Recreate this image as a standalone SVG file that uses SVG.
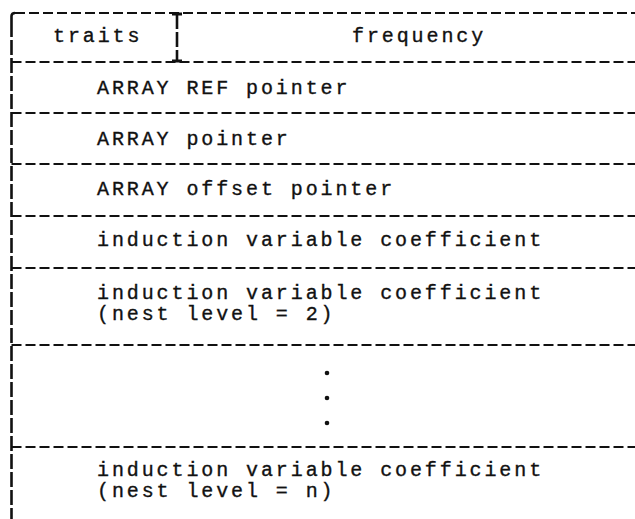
<svg xmlns="http://www.w3.org/2000/svg" width="635" height="519" viewBox="0 0 635 519">
<style>
.h{stroke:#111;stroke-width:2.2;stroke-dasharray:10 4;fill:none}
.v{stroke:#111;stroke-width:2.6;stroke-dasharray:15 3;fill:none}
.t{font-family:"Liberation Mono",monospace;font-size:20px;letter-spacing:2.9px;fill:#111;stroke:#111;stroke-width:0.35}
</style>
<rect width="635" height="519" fill="#fff"/>
<g id="connectors">
<path class="h" d="M15 13 H635"/>
<path d="M11.5 22 V16 Q11.5 13 15 13" stroke="#111" stroke-width="2.6" fill="none"/>
<path class="v" d="M11.5 22 V519"/>
<path class="h" d="M11.5 62 H635"/>
<path class="h" d="M11.5 113 H635"/>
<path class="h" d="M11.5 164 H635"/>
<path class="h" d="M11.5 216 H635"/>
<path class="h" d="M11.5 268 H635"/>
<path class="h" d="M11.5 345 H635"/>
<path class="h" d="M11.5 447 H635"/>
<path class="v" d="M177 14 V61" stroke-dasharray="12 4"/>
<path d="M172 14 H182 M172 61 H182" stroke="#111" stroke-width="3"/>
</g>
<g id="traits"><text class="t" x="53" y="42">traits</text></g>
<g id="frequency"><text class="t" x="352" y="42">frequency</text></g>
<g id="array-ref"><text class="t" x="97" y="94">ARRAY REF pointer</text></g>
<g id="array-ptr"><text class="t" x="97" y="145">ARRAY pointer</text></g>
<g id="array-off"><text class="t" x="97" y="195">ARRAY offset pointer</text></g>
<g id="ind1"><text class="t" x="97" y="246">induction variable coefficient</text></g>
<g id="ind2"><text class="t" x="97" y="299">induction variable coefficient</text><text class="t" x="97" y="320">(nest level = 2)</text></g>
<g id="dots"><circle cx="327" cy="373" r="2.3" fill="#111"/><circle cx="327" cy="398" r="2.3" fill="#111"/><circle cx="327" cy="423" r="2.3" fill="#111"/></g>
<g id="indn"><text class="t" x="97" y="476">induction variable coefficient</text><text class="t" x="97" y="497">(nest level = n)</text></g>
</svg>
